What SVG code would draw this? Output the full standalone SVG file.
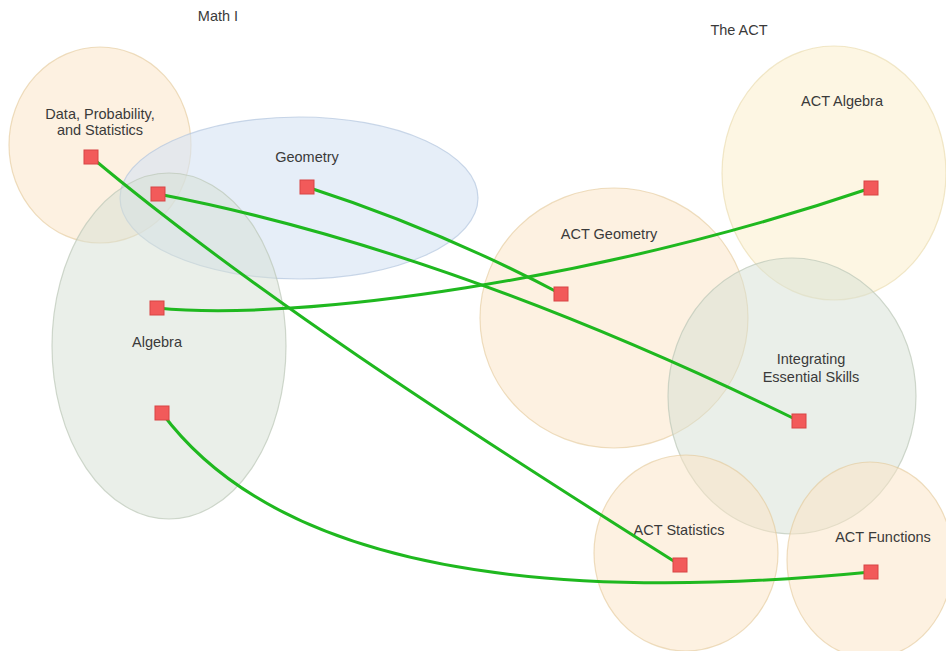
<svg xmlns="http://www.w3.org/2000/svg" width="946" height="651" viewBox="0 0 946 651">
<style>
text{font-family:"Liberation Sans",Arial,sans-serif;font-size:14.5px;fill:#3a3a3a;text-anchor:middle}
.or{fill:#fbe3c4;fill-opacity:0.5;stroke:#e2c898;stroke-opacity:0.6;stroke-width:1.2}
.ye{fill:#fcedc8;fill-opacity:0.5;stroke:#e8d8a8;stroke-opacity:0.6;stroke-width:1.2}
.bl{fill:#d6e3f4;fill-opacity:0.6;stroke:#b4c6de;stroke-opacity:0.7;stroke-width:1.2}
.gr{fill:#d6e0d3;fill-opacity:0.5;stroke:#bcc8b8;stroke-opacity:0.7;stroke-width:1.2}
.sq{fill:#f25a5a;stroke:#d84444;stroke-width:1}
.ln{fill:none;stroke:#1fb81f;stroke-width:3;stroke-linecap:round}
</style>
<rect width="946" height="651" fill="#ffffff"/>
<text x="218" y="21">Math I</text>
<text x="739" y="35">The ACT</text>
<g id="act-algebra"><ellipse class="ye" cx="834" cy="173" rx="112" ry="127"/><text x="842" y="106">ACT Algebra</text></g>
<g id="act-geometry"><ellipse class="or" cx="614" cy="318" rx="134" ry="130"/><text x="609" y="239">ACT Geometry</text></g>
<g id="integrating"><ellipse class="gr" cx="792" cy="396" rx="124" ry="138"/><text x="811" y="364">Integrating</text><text x="811" y="382">Essential Skills</text></g>
<g id="act-statistics"><ellipse class="or" cx="686" cy="553" rx="92" ry="98"/><text x="679" y="535">ACT Statistics</text></g>
<g id="act-functions"><ellipse class="or" cx="870" cy="560" rx="83" ry="98"/><text x="883" y="542">ACT Functions</text></g>
<g id="data"><ellipse class="or" cx="100" cy="145" rx="91" ry="98"/><text x="100" y="119">Data, Probability,</text><text x="100" y="135">and Statistics</text></g>
<g id="geometry"><ellipse class="bl" cx="299" cy="198" rx="179" ry="81"/><text x="307" y="162">Geometry</text></g>
<g id="algebra"><ellipse class="gr" cx="169" cy="346" rx="117" ry="173"/><text x="157" y="347">Algebra</text></g>
<g id="connectors">
<path class="ln" d="M91,157 C250,290 450,420 680,565"/>
<path class="ln" d="M158,194 Q450,250 799,421"/>
<path class="ln" d="M307,187 Q440,230 561,294"/>
<path class="ln" d="M157,308 C300,322 600,280 871,188"/>
<path class="ln" d="M162,413 C260,545 480,610 871,572"/>
</g>
<g id="squares">
<rect class="sq" x="84" y="150" width="14" height="14"/>
<rect class="sq" x="151" y="187" width="14" height="14"/>
<rect class="sq" x="300" y="180" width="14" height="14"/>
<rect class="sq" x="150" y="301" width="14" height="14"/>
<rect class="sq" x="155" y="406" width="14" height="14"/>
<rect class="sq" x="554" y="287" width="14" height="14"/>
<rect class="sq" x="864" y="181" width="14" height="14"/>
<rect class="sq" x="792" y="414" width="14" height="14"/>
<rect class="sq" x="673" y="558" width="14" height="14"/>
<rect class="sq" x="864" y="565" width="14" height="14"/>
</g>
</svg>
